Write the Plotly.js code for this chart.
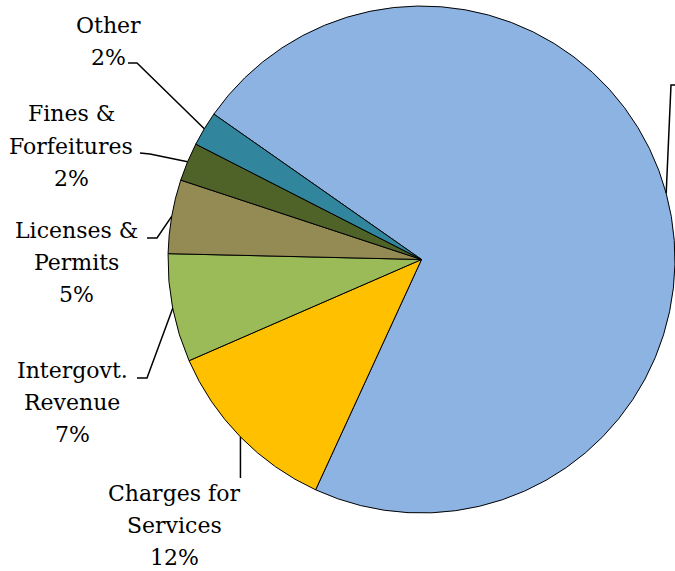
<!DOCTYPE html>
<html>
<head>
<meta charset="utf-8">
<script src="https://cdn.plot.ly/plotly-3.0.1.min.js"></script>
<style>html,body{margin:0;padding:0;background:#fff;}#chart{width:675px;height:571px;}</style>
</head>
<body>
<div id="chart"></div>
<script>
// ---- data ----
const categories = ['Taxes', 'Charges for Services', 'Intergovt. Revenue', 'Licenses & Permits', 'Fines & Forfeitures', 'Other'];
const labelLines = [[], ['Charges for', 'Services'], ['Intergovt.', 'Revenue'], ['Licenses &amp;', 'Permits'], ['Fines &amp;', 'Forfeitures'], ['Other']];
const values = [72.1, 11.6, 6.9, 4.7, 2.45, 2.2];
const colors = ['#8DB3E2', '#FFC000', '#9BBB59', '#948A54', '#4F6228', '#31859C'];

// ---- layout geometry (pixels) ----
const W = 675, H = 571;
const pieLeft = 168, pieRight = 675, pieTop = 6, pieBottom = 513;
const rotationDeg = -55; // first slice starts 55 deg counter-clockwise from 12 o'clock
const lineGap = 32;
// label block centers and leader line elbows (pixels)
const labelPos = [null, [174, 525], [72, 402], [76, 262], [71, 146], [108, 41]];
const elbows = [
  [[680, 85], [671, 85]],
  [[null, 478]],
  [[137, 378], [147, 378]],
  [[147, 238], [157, 238]],
  [[140, 153], [150, 154]],
  [[128, 63], [137, 63]]
];

const total = values.reduce((a, b) => a + b, 0);
const cx = (pieLeft + pieRight) / 2, cy = (pieTop + pieBottom) / 2;
const R = (pieRight - pieLeft) / 2;
const px = x => x / W, py = y => 1 - y / H;

// mid-angle of each slice on the rim (clockwise from 12 o'clock)
const mids = [];
let acc = rotationDeg;
values.forEach(v => {
  const span = v / total * 360;
  mids.push(acc + span / 2);
  acc += span;
});
const rimPt = i => {
  const a = mids[i] * Math.PI / 180;
  return [cx + R * Math.sin(a), cy - R * Math.cos(a)];
};

const font = {family: 'DejaVu Serif', size: 22, color: '#000'};
const annotations = [];
const shapes = [];
values.forEach((v, i) => {
  const rim = rimPt(i);
  const pts = elbows[i].map(p => [p[0] === null ? rim[0] : p[0], p[1]]);
  pts.push(rim);
  const path = pts.map((p, k) => (k ? 'L ' : 'M ') + px(p[0]).toFixed(5) + ' ' + py(p[1]).toFixed(5)).join(' ');
  shapes.push({type: 'path', xref: 'paper', yref: 'paper', path: path, line: {color: '#000', width: 1.5}});
  if (labelPos[i]) {
    const pct = Math.round(v / total * 100) + '%';
    const lines = labelLines[i].concat([pct]);
    lines.forEach((t, k) => {
      const yy = labelPos[i][1] + (k - (lines.length - 1) / 2) * lineGap;
      annotations.push({
        xref: 'paper', yref: 'paper', x: px(labelPos[i][0]), y: py(yy),
        xanchor: 'center', yanchor: 'middle', align: 'center', showarrow: false,
        borderpad: 0, text: t, font: font
      });
    });
  }
});

const trace = {
  type: 'pie',
  labels: categories,
  values: values,
  sort: false,
  direction: 'clockwise',
  rotation: rotationDeg,
  textinfo: 'none',
  hoverinfo: 'none',
  marker: {colors: colors, line: {color: '#000', width: 1}},
  domain: {x: [px(pieLeft), px(pieRight)], y: [py(pieBottom), py(pieTop)]}
};

const layout = {
  width: W, height: H,
  margin: {l: 0, r: 0, t: 0, b: 0},
  showlegend: false,
  paper_bgcolor: '#fff',
  annotations: annotations,
  shapes: shapes
};

Plotly.newPlot('chart', [trace], layout, {displayModeBar: false, staticPlot: true});
</script>
</body>
</html>
